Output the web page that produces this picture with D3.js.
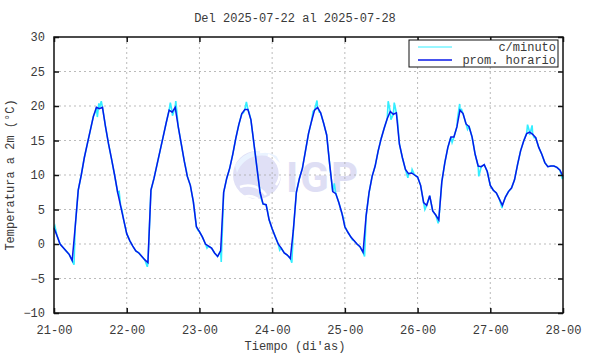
<!DOCTYPE html>
<meta charset="utf-8">
<style>
  body { margin: 0; background: #fff; }
  text { font-family: "Liberation Mono", "DejaVu Sans Mono", monospace; font-size: 12px; fill: #3a3a3a; }
  .grid line { stroke: #aaa; stroke-width: .8px; stroke-dasharray: 2,3; }
  .marco { fill: none; stroke: #111; stroke-width: 1.5px; }
</style>
<svg width="590" height="354"></svg>
<script src="https://cdn.jsdelivr.net/npm/d3@7"></script>
<script>

// promedio horario, desde 21-00 (hora 0) hasta 28-00 (hora 168)
var dia21 = [2.3, 1.2, 0.0, -0.5, -1.0, -1.5, -2.4, 2.5, 7.8, 10.0, 12.5, 14.5, 16.5, 18.5, 19.8, 19.6, 19.8, 17.0, 14.5, 12.3, 10.0, 7.5, 5.5, 3.5];
var dia22 = [1.5, 0.5, -0.3, -1.0, -1.3, -1.8, -2.3, -2.7, 7.8, 9.5, 11.5, 13.5, 15.5, 17.5, 19.4, 19.1, 19.8, 17.0, 14.5, 12.0, 9.8, 8.5, 6.1, 2.5];
var dia23 = [1.8, 1.0, 0.0, -0.3, -0.6, -1.3, -1.8, -1.0, 7.5, 9.5, 11.0, 13.0, 15.3, 17.3, 18.9, 19.5, 19.5, 18.0, 14.5, 11.0, 7.5, 5.8, 5.7, 3.5];
var dia24 = [2.2, 1.1, 0.0, -0.6, -1.3, -1.6, -2.1, 2.0, 7.5, 9.5, 11.0, 13.5, 16.0, 17.8, 19.4, 19.8, 19.0, 17.5, 15.8, 11.5, 7.6, 7.3, 6.0, 4.5];
var dia25 = [2.5, 1.7, 1.0, 0.5, 0.0, -0.4, -1.2, 4.0, 7.5, 9.8, 11.3, 13.5, 15.3, 16.8, 18.2, 19.2, 18.8, 19.0, 14.5, 12.5, 10.8, 10.2, 10.3, 10.0];
var dia26 = [9.7, 8.5, 6.0, 5.6, 7.0, 4.8, 4.2, 3.5, 9.0, 11.8, 14.0, 15.5, 15.5, 17.0, 19.4, 18.9, 17.4, 17.0, 15.5, 13.0, 11.3, 11.2, 11.5, 10.5];
var dia27 = [8.5, 7.8, 7.4, 6.5, 5.6, 6.8, 7.6, 8.1, 9.3, 11.5, 13.5, 14.9, 16.0, 16.2, 15.9, 15.4, 14.0, 13.0, 11.8, 11.2, 11.3, 11.3, 11.1, 10.7, 9.8];

// lecturas c/minuto que se salen del promedio: [hora, valor]
var picosMinuto = [
  [0.3, 2.6], [6.6, -3.0], [13.7, 19.2], [14.3, 18.4], [14.8, 20.4], [15.6, 20.7], [16.2, 19.3], [21.5, 7.6], [22.4, 5.0],
  [30.8, -3.3], [38.4, 20.5], [39.1, 18.6], [40.2, 20.7], [43.7, 10.6], [47.5, 2.0], [50.5, -0.6],
  [55.2, -2.6], [62.5, 19.0], [63.5, 20.6], [64.3, 19.2], [68.4, 6.6], [70.4, 5.0], [74.5, -0.9],
  [78.5, -2.7], [85.5, 19.2], [86.8, 20.8], [87.6, 19.1], [92.5, 8.8], [95.5, 3.8], [98.5, 0.6],
  [102.5, -1.8], [110.3, 20.7], [111.2, 18.0], [112.3, 20.5], [113.4, 17.8], [116.8, 9.6], [118.2, 10.8],
  [122.4, 5.0], [126.8, 3.0], [131.4, 14.7], [133.2, 18.2], [133.9, 20.3], [134.5, 19.5], [136.5, 16.6],
  [140.2, 9.8], [147.9, 5.2], [155.6, 15.6], [156.3, 17.3], [157.0, 15.8], [157.8, 17.2], [158.5, 15.4], [167.8, 9.4]
];

var horaTicks = d3.range(0, 169, 24);
var etiquetasX = ["21-00", "22-00", "23-00", "24-00", "25-00", "26-00", "27-00", "28-00"];
var yTicks = d3.range(-10, 31, 5);

var horario = [].concat(dia21, dia22, dia23, dia24, dia25, dia26, dia27)
  .map(function(v, i) { return [i, v]; });
var minuto = horario.concat(picosMinuto).sort(function(a, b) { return a[0] - b[0]; });

var svg = d3.select("svg"),
    margin = {top: 37, right: 27, bottom: 41, left: 54},
    width = +svg.attr("width") - margin.left - margin.right,
    height = +svg.attr("height") - margin.top - margin.bottom,
    g = svg.append("g").attr("transform", "translate(" + margin.left + "," + margin.top + ")");

var x = d3.scaleLinear().domain([0, 168]).range([0, width]);
var y = d3.scaleLinear().domain([-10, 30]).range([height, 0]);

// marca de agua IGP
var wm = g.append("g");
wm.append("circle").attr("cx", 203).attr("cy", 138).attr("r", 24).attr("fill", "#e0e0f6");
wm.append("path")
  .attr("d", "M181,128 A30,30 0 0 1 222,118 L226,126 A26,26 0 0 0 183,136 Z")
  .attr("fill", "#eaf3ff");
wm.append("path")
  .attr("d", "M186,150 A22,22 0 0 1 212,158 M190,160 A16,16 0 0 1 204,162 M214,118 A20,20 0 0 1 222,148 M206,115 A22,22 0 0 1 216,158")
  .attr("fill", "none").attr("stroke", "#fff").attr("stroke-width", 2.5);
wm.append("text").attr("x", 232).attr("y", 155)
  .attr("textLength", 72)
  .style("font-family", "Roboto, 'DejaVu Sans', sans-serif")
  .style("font-weight", "bold").style("font-size", "42px").style("fill", "#dedef4")
  .text("IGP");

// grilla punteada
var grid = g.append("g").attr("class", "grid");
grid.selectAll(".gx").data(horaTicks.slice(1, -1)).enter().append("line")
  .attr("x1", function(d) { return x(d); }).attr("x2", function(d) { return x(d); })
  .attr("y1", 0).attr("y2", height);
grid.selectAll(".gy").data(yTicks.slice(1, -1)).enter().append("line")
  .attr("x1", 0).attr("x2", width)
  .attr("y1", function(d) { return y(d); }).attr("y2", function(d) { return y(d); });

var line = d3.line()
  .x(function(d) { return x(d[0]); })
  .y(function(d) { return y(d[1]); });

g.append("path").datum(minuto)
  .attr("d", line)
  .attr("fill", "none").attr("stroke", "#33eeff").attr("stroke-width", 1.6);

g.append("path").datum(horario)
  .attr("d", line)
  .attr("fill", "none").attr("stroke", "#0818e8").attr("stroke-width", 1.5);

// ejes
var fmtX = function(d, i) { return etiquetasX[i]; };
g.append("g").attr("transform", "translate(0," + height + ")")
  .call(d3.axisBottom(x).tickValues(horaTicks).tickFormat(fmtX).tickSizeInner(-5).tickSizeOuter(0).tickPadding(12));
g.append("g")
  .call(d3.axisTop(x).tickValues(horaTicks).tickFormat("").tickSizeInner(-5).tickSizeOuter(0));
g.append("g")
  .call(d3.axisLeft(y).tickValues(yTicks).tickSizeInner(-5).tickSizeOuter(0).tickPadding(9));
g.append("g").attr("transform", "translate(" + width + ",0)")
  .call(d3.axisRight(y).tickValues(yTicks).tickFormat("").tickSizeInner(-5).tickSizeOuter(0));
g.selectAll(".domain").remove();
g.selectAll(".tick line").attr("stroke", "#111").attr("stroke-width", 1.5);
g.selectAll(".tick text").style("font-family", "'Liberation Mono', monospace").style("font-size", "12px").attr("fill", "#3a3a3a");

g.append("rect").attr("class", "marco").attr("width", width).attr("height", height);

// leyenda
var ley = g.append("g").attr("transform", "translate(355,3)");
ley.append("rect").attr("width", 149).attr("height", 27)
  .attr("fill", "#fff").attr("stroke", "#111").attr("stroke-width", 1);
ley.append("line").attr("x1", 9).attr("x2", 43).attr("y1", 7).attr("y2", 7)
  .attr("stroke", "#33eeff").attr("stroke-width", 1);
ley.append("text").attr("x", 147).attr("y", 11).attr("text-anchor", "end").text("c/minuto");
ley.append("line").attr("x1", 9).attr("x2", 43).attr("y1", 20).attr("y2", 20)
  .attr("stroke", "#0818e8").attr("stroke-width", 1.5);
ley.append("text").attr("x", 147).attr("y", 24).attr("text-anchor", "end").text("prom. horario");

// titulos
svg.append("text").attr("x", 295).attr("y", 22).attr("text-anchor", "middle")
  .text("Del 2025-07-22 al 2025-07-28");
svg.append("text").attr("x", 295).attr("y", 350).attr("text-anchor", "middle")
  .text("Tiempo (di'as)");
svg.append("text").attr("transform", "translate(14," + (margin.top + height / 2) + ") rotate(-90)")
  .attr("text-anchor", "middle").text("Temperatura a 2m (°C)");

</script>
